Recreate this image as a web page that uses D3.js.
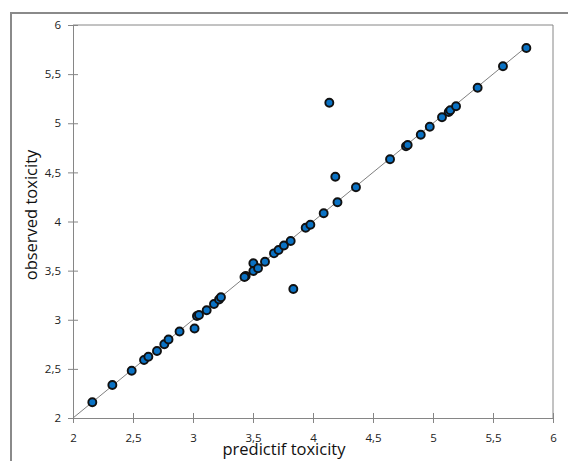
<!DOCTYPE html>
<html>
<head>
<meta charset="utf-8">
<script src="https://cdn.jsdelivr.net/npm/d3@7"></script>
<style>
  body { margin: 0; background: #fff; }
  text { font-family: "Open Sans", "DejaVu Sans", sans-serif; }
</style>
</head>
<body>
<script>
// predicted vs observed toxicity
let predicted = [2.161, 2.328, 2.489, 2.592, 2.628, 2.70, 2.761, 2.796, 2.888, 3.013,
    3.033, 3.05, 3.114, 3.175, 3.217, 3.233, 3.439, 3.429, 3.503, 3.503,
    3.542, 3.60, 3.675, 3.713, 3.758, 3.814, 3.836, 3.939, 3.978, 4.089,
    4.136, 4.186, 4.204, 4.358, 4.642, 4.775, 4.789, 4.898, 4.973, 5.075,
    5.131, 5.144, 5.192, 5.372, 5.583, 5.778];
let observed = [2.160, 2.336, 2.481, 2.590, 2.624, 2.682, 2.750, 2.799, 2.880, 2.911,
    3.038, 3.048, 3.097, 3.160, 3.206, 3.229, 3.445, 3.435, 3.575, 3.496,
    3.524, 3.591, 3.676, 3.710, 3.756, 3.802, 3.313, 3.937, 3.967, 4.084,
    5.209, 4.456, 4.196, 4.348, 4.633, 4.765, 4.779, 4.883, 4.965, 5.061,
    5.115, 5.132, 5.173, 5.362, 5.580, 5.766];
let xTicks = [2, 2.5, 3, 3.5, 4, 4.5, 5, 5.5, 6];
let yTicks = [2, 2.5, 3, 3.5, 4, 4.5, 5, 5.5, 6];
let fitLine = [2, 5.78];

let width = 568;
let height = 461;
let margin = {left: 73, top: 25, right: 15, bottom: 43};

let svg = d3.select('body').append('svg')
    .attr('width', width)
    .attr('height', height);

// outer chart frame (partly off-canvas)
svg.append('rect')
    .attr('x', 11)
    .attr('y', 13)
    .attr('width', 600)
    .attr('height', 500)
    .attr('fill', 'none')
    .attr('stroke', '#8a8a8a')
    .attr('stroke-width', 2);

let x = d3.scaleLinear().domain([2, 6]).range([margin.left, width - margin.right]);
let y = d3.scaleLinear().domain([2, 6]).range([height - margin.bottom, margin.top]);

let fmt = d => d.toString().replace('.', ',');

// plot area top/right border
svg.append('path')
    .attr('d', `M${x(2)},${y(6)}H${x(6)}V${y(2)}`)
    .attr('fill', 'none')
    .attr('stroke', '#868686');

let xAxis = svg.append('g')
    .attr('transform', `translate(0,${y(2)})`)
    .call(d3.axisBottom(x).tickValues(xTicks).tickFormat(fmt).tickSize(5).tickSizeOuter(0));
xAxis.selectAll('.tick line').attr('y1', -5);
xAxis.selectAll('.tick text').attr('dy', '1.35em');

let yAxis = svg.append('g')
    .attr('transform', `translate(${x(2)},0)`)
    .call(d3.axisLeft(y).tickValues(yTicks).tickFormat(fmt).tickSize(5).tickSizeOuter(0));
yAxis.selectAll('.tick line').attr('x1', 5);
yAxis.selectAll('.tick text').attr('x', -12);

svg.selectAll('.domain, .tick line').attr('stroke', '#868686');
svg.selectAll('.tick text')
    .attr('fill', '#222')
    .style('font-size', '11.5px')
    .style('font-family', '"Open Sans", sans-serif');

// 1:1 line
svg.append('line')
    .attr('x1', x(fitLine[0]))
    .attr('y1', y(fitLine[0]))
    .attr('x2', x(fitLine[1]))
    .attr('y2', y(fitLine[1]))
    .attr('stroke', '#7f7f7f')
    .attr('stroke-width', 1);

let points = predicted.map((p, i) => ({p: p, o: observed[i]}));

svg.selectAll('circle.pt')
    .data(points)
    .join('circle')
    .attr('class', 'pt')
    .attr('cx', d => x(d.p))
    .attr('cy', d => y(d.o))
    .attr('r', 4)
    .attr('fill', '#0a72c4')
    .attr('stroke', '#111')
    .attr('stroke-width', 1.9);

svg.append('text')
    .attr('x', 284)
    .attr('y', 455)
    .attr('text-anchor', 'middle')
    .style('font-size', '16.5px')
    .attr('fill', '#111')
    .text('predictif toxicity');

svg.append('text')
    .attr('transform', 'translate(37,215) rotate(-90)')
    .attr('text-anchor', 'middle')
    .style('font-size', '16.5px')
    .attr('fill', '#111')
    .text('observed toxicity');
</script>
</body>
</html>
